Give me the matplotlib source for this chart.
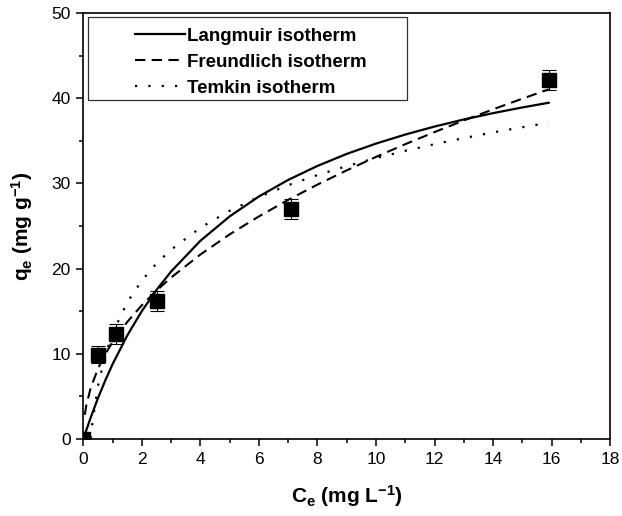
import matplotlib
matplotlib.use("Agg")
import matplotlib.pyplot as plt
from matplotlib.patches import Rectangle
from matplotlib.ticker import MultipleLocator

plt.rcParams['font.family'] = ['Liberation Sans', 'DejaVu Sans']
plt.rcParams['mathtext.default'] = 'regular'

# experimental points (Ce, qe, error)
ce_exp = [0.0, 0.5, 1.1, 2.5, 7.1, 15.9]
qe_exp = [0.0, 9.9, 12.3, 16.2, 27.0, 42.1]
qe_err = [0.0, 1.0, 1.2, 1.2, 1.2, 1.15]

# fitted isotherms
ce_lang = [0, 0.1, 0.25, 0.5, 0.75, 1, 1.5, 2, 2.5, 3, 4, 5, 6, 7, 8, 9, 10, 11, 12, 13, 14, 15, 15.9]
qe_lang = [0, 1.04, 2.52, 4.81, 6.89, 8.80, 12.16, 15.03, 17.51, 19.67, 23.27, 26.13, 28.47,
           30.41, 32.05, 33.46, 34.67, 35.73, 36.67, 37.50, 38.24, 38.91, 39.46]

ce_freu = [0.05, 0.1, 0.25, 0.5, 0.75, 1, 1.5, 2, 2.5, 3, 4, 5, 6, 7, 8, 9, 10, 11, 12, 13, 14, 15, 15.9]
qe_freu = [2.85, 3.93, 6.0, 8.27, 9.98, 11.4, 13.75, 15.71, 17.42, 18.96, 21.66, 24.02, 26.13,
           28.07, 29.86, 31.53, 33.11, 34.60, 36.02, 37.38, 38.69, 39.94, 41.03]

ce_temk = [0.25, 0.3, 0.5, 0.75, 1, 1.5, 2, 2.5, 3, 4, 5, 6, 7, 8, 9, 10, 11, 12, 13, 14, 15, 15.9]
qe_temk = [0.07, 1.69, 6.25, 9.87, 12.43, 16.05, 18.61, 20.61, 22.23, 24.80, 26.79, 28.41,
           29.79, 30.98, 32.03, 32.97, 33.82, 34.60, 35.31, 35.98, 36.59, 37.11]

fig = plt.figure(figsize=(6.22, 5.16), dpi=100)
ax = fig.add_axes([0.134, 0.149, 0.847, 0.826])

ax.plot(ce_lang, qe_lang, color='black', lw=1.6, ls='-', label='Langmuir isotherm')
ax.plot(ce_freu, qe_freu, color='black', lw=1.5, ls=(0, (5, 3)), label='Freundlich isotherm')
ax.plot(ce_temk, qe_temk, color='black', lw=1.6, ls=(0, (1, 5)), label='Temkin isotherm')
ax.errorbar(ce_exp, qe_exp, yerr=qe_err, fmt='s', color='black', ms=9.5,
            ecolor='black', elinewidth=0.8, capsize=5, capthick=0.8, zorder=5)

ax.set_xlim(0, 18)
ax.set_ylim(0, 50)
ax.xaxis.set_major_locator(MultipleLocator(2))
ax.xaxis.set_minor_locator(MultipleLocator(1))
ax.yaxis.set_major_locator(MultipleLocator(10))
ax.yaxis.set_minor_locator(MultipleLocator(5))
ax.tick_params(which='major', direction='out', length=5, width=1.1, labelsize=12.5, pad=4)
ax.tick_params(which='minor', direction='out', length=3, width=1.1)
for s in ax.spines.values():
    s.set_linewidth(1.2)

ax.set_xlabel('C$_e$ (mg L$^{-1}$)', fontsize=15, fontweight='bold', labelpad=12)
ax.set_ylabel('q$_e$ (mg g$^{-1}$)', fontsize=15, fontweight='bold', labelpad=12)

ax.add_patch(Rectangle((0.009, 0.795), 0.606, 0.196, transform=ax.transAxes,
                       fill=False, edgecolor='#333333', lw=0.9, zorder=6))
leg = ax.legend(loc='center', bbox_to_anchor=(0.318, 0.884), frameon=False,
                prop={'size': 13.5, 'weight': 'bold'}, handlelength=2.7,
                handletextpad=0.1, labelspacing=0.48, borderpad=0)

fig.savefig('out.png', dpi=100)
